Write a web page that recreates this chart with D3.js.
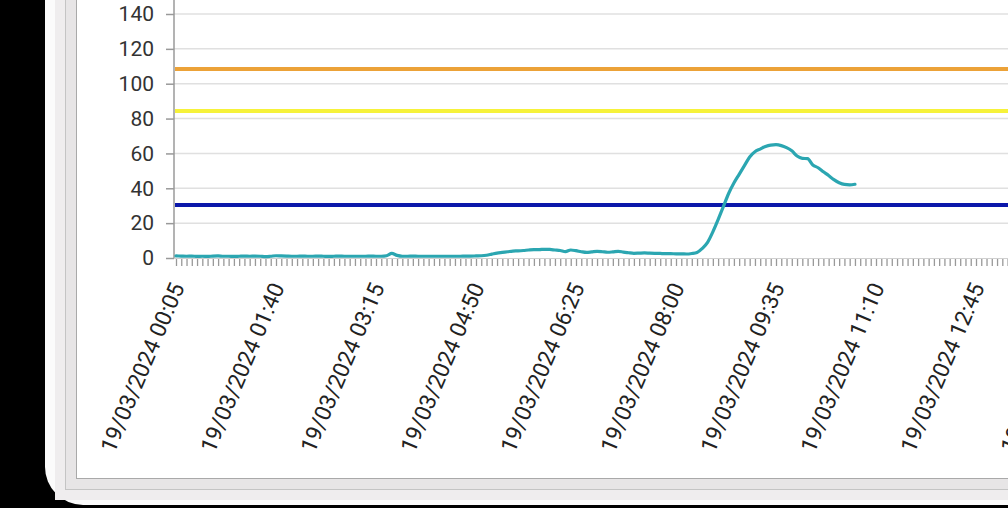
<!DOCTYPE html>
<html>
<head>
<meta charset="utf-8">
<script src="https://cdn.jsdelivr.net/npm/d3@7"></script>
<style>
  html, body { margin: 0; padding: 0; background: #000; }
  svg { display: block; }
</style>
</head>
<body>
<svg id="chart" width="1008" height="508"></svg>
<script>
// ---------- DATA ----------
const startTime = "2024-03-19T00:05";
const stepMinutes = 5;
const categoryCount = 172; // 00:05 .. 14:20, one point every 5 minutes
const tickLabels = [
  "19/03/2024 00:05", "19/03/2024 01:40", "19/03/2024 03:15",
  "19/03/2024 04:50", "19/03/2024 06:25", "19/03/2024 08:00",
  "19/03/2024 09:35", "19/03/2024 11:10", "19/03/2024 12:45",
  "19/03/2024 14:20"
];
const yTicks = [0, 20, 40, 60, 80, 100, 120, 140];
// measured values, one per 5-minute category from 00:05 (ends ~10:50)
const readings = [
  1.2, 1.1, 1.0, 1.1, 0.9, 1.0, 0.9, 1.1, 1.2, 1.0,
  1.0, 0.9, 1.0, 1.1, 1.0, 1.1, 1.0, 0.8, 1.0, 1.3,
  1.2, 1.1, 1.0, 1.0, 1.1, 1.0, 1.0, 1.1, 1.0, 0.9,
  1.0, 1.1, 1.0, 1.0, 1.0, 1.0, 1.0, 1.1, 1.0, 1.0,
  1.3, 2.6, 1.5, 1.0, 1.0, 1.1, 1.0, 1.0, 1.0, 1.0,
  1.0, 1.0, 1.0, 1.0, 1.0, 1.1, 1.1, 1.2, 1.3, 1.6,
  2.2, 2.8, 3.2, 3.6, 4.0, 4.1, 4.3, 4.6, 4.8, 4.8,
  5.0, 4.9, 4.6, 4.3, 3.7, 4.6, 4.2, 3.6, 3.2, 3.5,
  3.8, 3.6, 3.3, 3.5, 3.8, 3.4, 3.0, 2.7, 2.8, 2.9,
  2.8, 2.7, 2.6, 2.5, 2.5, 2.4, 2.4, 2.3, 2.6, 3.2,
  5.5, 9.0, 15.0, 22.0, 29.5, 37.0, 43.0, 48.0, 53.0, 58.0,
  61.0, 62.5, 64.0, 64.8, 65.0, 64.5, 63.3, 61.5, 58.5, 57.2,
  57.0, 53.4, 51.8, 49.5, 47.3, 45.0, 43.2, 42.2, 42.0, 42.3
];
const thresholds = [
  { name: "high", value: 108.4, color: "#eca238" },
  { name: "mid",  value: 84.3,  color: "#f6f23a" },
  { name: "low",  value: 30.4,  color: "#0b17aa" }
];

// ---------- BUILD ----------
const parse = d3.timeParse("%Y-%m-%dT%H:%M");
const fmt = d3.timeFormat("%d/%m/%Y %H:%M");
const t0 = parse(startTime);
const categories = d3.range(categoryCount).map(i => fmt(d3.timeMinute.offset(t0, i * stepMinutes)));

const svg = d3.select("#chart");
const W = 1008, H = 508;

// phone / panel frame
svg.append("rect").attr("x", 0).attr("y", 0).attr("width", W).attr("height", H).attr("fill", "#000");
svg.append("rect").attr("x", 45).attr("y", -60).attr("width", 1100).attr("height", 565).attr("rx", 38).attr("fill", "#fbfbfb");
svg.append("rect").attr("x", 55).attr("y", -20).attr("width", 1100).attr("height", 520).attr("fill", "#efedee");
svg.append("rect").attr("x", 65.5).attr("y", -20).attr("width", 1100).attr("height", 509.5).attr("fill", "#e7e5e6").attr("stroke", "#c4c4c4");
svg.append("rect").attr("x", 76.5).attr("y", -20).attr("width", 1100).attr("height", 498.5).attr("fill", "#fff").attr("stroke", "#a9a9a9");

const x0 = 176, step = 100 / 19;
const x = d3.scalePoint().domain(categories).range([x0, x0 + step * (categoryCount - 1)]);
const y = d3.scaleLinear().domain([0, 140]).range([258, 14]);
const axisX = 174;

// grid
svg.append("g").selectAll("line").data(yTicks.filter(d => d > 0)).join("line")
  .attr("x1", axisX).attr("x2", W).attr("y1", d => y(d)).attr("y2", d => y(d))
  .attr("stroke", "#e0e0e0").attr("stroke-width", 1.5);

// y axis
const yAxis = d3.axisLeft(y).tickValues(yTicks).tickSize(8).tickPadding(12);
const gy = svg.append("g").attr("transform", `translate(${axisX},0)`).call(yAxis);
gy.select(".domain").remove();
gy.selectAll(".tick line").attr("stroke", "#999").attr("stroke-width", 1.5);
gy.selectAll(".tick text").attr("font-family", "Roboto").attr("font-size", 21).attr("fill", "#333");
svg.append("line").attr("x1", axisX).attr("x2", axisX).attr("y1", 0).attr("y2", 259)
  .attr("stroke", "#9a9a9a").attr("stroke-width", 1.5);

// x axis (minor ticks at every category)
const xAxis = d3.axisBottom(x).tickSize(7).tickFormat("");
const gx = svg.append("g").attr("transform", "translate(0,259)").call(xAxis);
gx.select(".domain").remove();
gx.selectAll(".tick line").attr("stroke", "#999").attr("stroke-width", 1.3);
svg.append("line").attr("x1", axisX).attr("x2", W).attr("y1", 258.5).attr("y2", 258.5)
  .attr("stroke", "#d0d0d0").attr("stroke-width", 1);

// x tick labels
svg.append("g").selectAll("text").data(tickLabels).join("text")
  .attr("transform", d => `translate(${x(d) + 9},287) rotate(-67)`)
  .attr("text-anchor", "end")
  .attr("font-family", "Roboto").attr("font-size", 22.5).attr("fill", "#222")
  .text(d => d);

// thresholds
svg.append("g").selectAll("line").data(thresholds).join("line")
  .attr("x1", axisX + 1).attr("x2", W)
  .attr("y1", d => y(d.value)).attr("y2", d => y(d.value))
  .attr("stroke", d => d.color).attr("stroke-width", 4);

// data line
const line = d3.line()
  .x((d, i) => x(categories[i]))
  .y(d => y(d))
  .curve(d3.curveMonotoneX);
svg.append("path").datum(readings)
  .attr("d", line)
  .attr("fill", "none").attr("stroke", "#2ba6b1").attr("stroke-width", 3.2)
  .attr("stroke-linejoin", "round").attr("stroke-linecap", "round");
</script>
</body>
</html>
